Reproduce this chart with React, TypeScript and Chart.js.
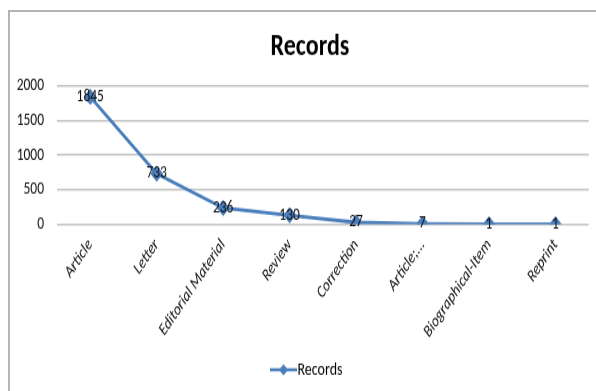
import React, { useEffect, useRef } from "react";
import { Chart, registerables } from "chart.js";

Chart.register(...registerables);

const categories = [
  "Article",
  "Letter",
  "Editorial Material",
  "Review",
  "Correction",
  "Article;...",
  "Biographical-Item",
  "Reprint",
];
const records = [1845, 733, 236, 130, 27, 7, 1, 1];
const yTicks = [0, 500, 1000, 1500, 2000];

const FONT = "'Carlito', 'Liberation Sans Narrow', 'Open Sans', sans-serif";
const LINE_COLOR = "#4a7ebb";
const W = 596;
const H = 391;
const CH = 313; // drawing height, stretched vertically to H like the reference

function makeLegendIcon(): HTMLCanvasElement {
  const c = document.createElement("canvas");
  c.width = 27;
  c.height = 10;
  const ctx = c.getContext("2d")!;
  ctx.strokeStyle = LINE_COLOR;
  ctx.lineWidth = 2.5;
  ctx.beginPath();
  ctx.moveTo(0, 5);
  ctx.lineTo(27, 5);
  ctx.stroke();
  ctx.fillStyle = LINE_COLOR;
  ctx.beginPath();
  ctx.moveTo(13.5, 0.5);
  ctx.lineTo(18, 5);
  ctx.lineTo(13.5, 9.5);
  ctx.lineTo(9, 5);
  ctx.closePath();
  ctx.fill();
  return c;
}

const dataLabels = {
  id: "dataLabels",
  afterDatasetsDraw(chart: any) {
    const ctx = chart.ctx;
    const meta = chart.getDatasetMeta(0);
    const ds = chart.data.datasets[0];
    ctx.save();
    ctx.font = `13.5px ${FONT}`;
    ctx.fillStyle = "#111";
    ctx.textAlign = "center";
    ctx.textBaseline = "middle";
    meta.data.forEach((pt: any, i: number) => {
      ctx.fillText(String(ds.data[i]), pt.x, pt.y);
    });
    ctx.restore();
  },
};

const shiftBoxes = {
  id: "shiftBoxes",
  afterLayout(chart: any) {
    if (chart.legend) {
      chart.legend.left += 6.5;
      chart.legend.right += 6.5;
    }
    if (chart.titleBlock) {
      chart.titleBlock.left += 7;
      chart.titleBlock.right += 7;
    }
  },
};

export default function App() {
  const ref = useRef<HTMLCanvasElement>(null);
  useEffect(() => {
    if (!ref.current) return;
    const icon = makeLegendIcon();
    const chart = new Chart(ref.current, {
      type: "line",
      data: {
        labels: categories,
        datasets: [
          {
            label: "Records",
            data: records,
            borderColor: LINE_COLOR,
            backgroundColor: LINE_COLOR,
            borderWidth: 2.8,
            pointStyle: "rectRot",
            pointRadius: 4.5,
            pointBackgroundColor: LINE_COLOR,
            pointBorderColor: LINE_COLOR,
            tension: 0,
          },
        ],
      },
      options: {
        animation: false,
        responsive: false,
        layout: { padding: { left: 10, right: 0, top: 23, bottom: 0 } },
        plugins: {
          title: {
            display: true,
            text: "Records",
            color: "#000",
            font: { family: FONT, size: 24, weight: "bold", lineHeight: 1.25 },
            padding: { top: 0, bottom: 16 },
          },
          legend: {
            display: true,
            position: "bottom",
            labels: {
              usePointStyle: true,
              pointStyleWidth: 14,
              color: "#222",
              font: { family: FONT, size: 14 },
              padding: 10,
              generateLabels: () => [
                {
                  text: "Records",
                  pointStyle: icon as any,
                  fillStyle: LINE_COLOR,
                  strokeStyle: LINE_COLOR,
                  lineWidth: 0,
                  hidden: false,
                  datasetIndex: 0,
                } as any,
              ],
            },
          },
          tooltip: { enabled: false },
        },
        scales: {
          x: {
            offset: true,
            grid: { display: false, drawTicks: false },
            border: { display: false },
            afterFit: (s: any) => {
              s.height = 99.5;
            },
            ticks: {
              minRotation: 50,
              maxRotation: 50,
              autoSkip: false,
              padding: 9,
              color: "#111",
              font: { family: FONT, size: 13.5, style: "italic" },
            },
          },
          y: {
            min: 0,
            max: 2000,
            afterBuildTicks: (s: any) => {
              s.ticks = yTicks.map((v) => ({ value: v }));
            },
            afterFit: (s: any) => {
              s.width = 47;
            },
            grid: { color: "#c4c4c4", lineWidth: 1.6, drawTicks: false },
            border: { display: false },
            ticks: {
              padding: 13,
              color: "#111",
              font: { family: FONT, size: 13.5 },
              callback: (v: any) => String(v),
            },
          },
        },
      },
      plugins: [dataLabels, shiftBoxes],
    });
    return () => chart.destroy();
  }, []);
  return (
    <div
      style={{
        position: "fixed",
        left: 0,
        top: 0,
        width: W,
        height: H,
        background: "#fff",
        overflow: "hidden",
      }}
    >
      <div
        style={{
          position: "absolute",
          left: 8,
          top: 10,
          right: 0,
          bottom: 0,
          borderLeft: "2px solid #b4b4b4",
          borderTop: "2px solid #b4b4b4",
        }}
      />
      <div
        style={{
          position: "absolute",
          left: 0,
          top: 0,
          width: W,
          height: CH,
          transform: `scaleY(${H / CH})`,
          transformOrigin: "0 0",
        }}
      >
        <canvas
          ref={ref}
          width={W}
          height={CH}
          style={{ display: "block", width: W, height: CH }}
        />
      </div>
    </div>
  );
}
